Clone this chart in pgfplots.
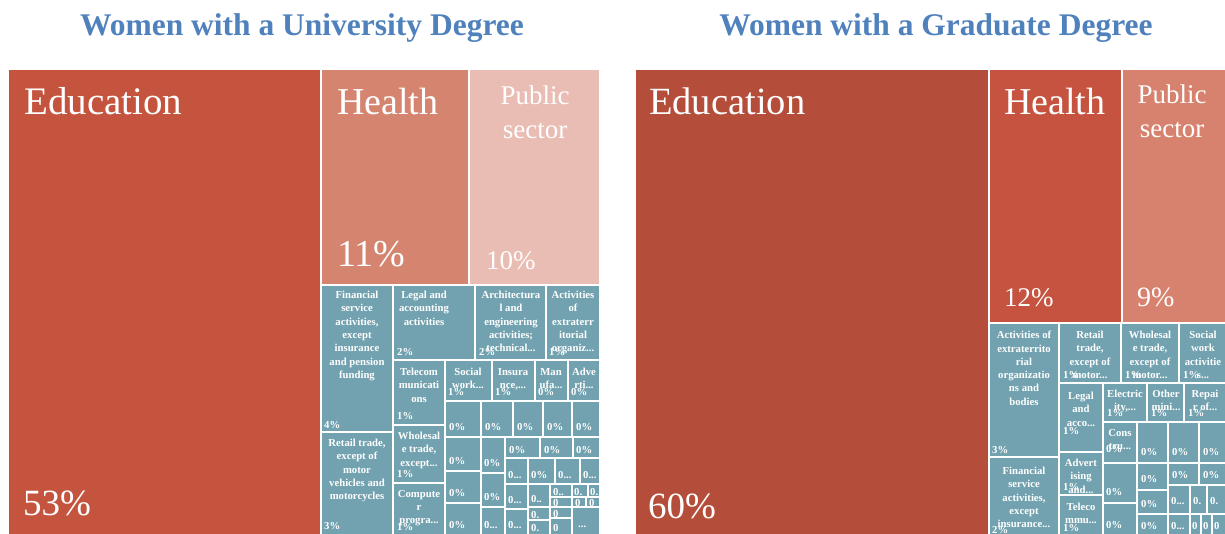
\documentclass[border=0pt]{standalone}
\usepackage{pgfplots}
\pgfplotsset{compat=1.18}
\usepackage{fontspec}
\setmainfont{Liberation Serif}
\definecolor{LA}{HTML}{C5543F}
\definecolor{LB}{HTML}{D4846F}
\definecolor{LC}{HTML}{E9BDB3}
\definecolor{RA}{HTML}{B44E3A}
\definecolor{RB}{HTML}{C5533F}
\definecolor{RC}{HTML}{D7826E}
\definecolor{TL}{HTML}{72A2B0}
\definecolor{TT}{HTML}{4F81BD}
\newcommand{\lbl}{\fontsize{10.7}{13.3}\selectfont\bfseries}
\newcommand{\cell}[5]{\addplot[fill=#5, draw=white, line width=1.6pt] coordinates {(#1,#2) (#3,#2) (#3,#4) (#1,#4)} --cycle;}
\newcommand{\cname}[3]{\node[anchor=north, align=center, font=\lbl, text=white, inner sep=0pt] at (axis cs:#1,#2) {#3};}
\newcommand{\cpct}[3]{\node[anchor=base west, font=\lbl, text=white, inner sep=0pt] at (axis cs:#1,#2) {#3};}
\newcommand{\BigLab}[4]{\node[anchor=base west, font=\fontsize{#3}{#3}\selectfont, text=white, inner sep=0pt] at (axis cs:#1,#2) {#4};}
\newcommand{\BigCen}[4]{\node[anchor=base, font=\fontsize{#3}{#3}\selectfont, text=white, inner sep=0pt] at (axis cs:#1,#2) {#4};}
\begin{document}
\begin{tikzpicture}
\useasboundingbox (0,0) rectangle (1225pt,533pt);
\begin{axis}[at={(0,0)}, anchor=south west, width=1225pt, height=533pt, scale only axis, xmin=0, xmax=1225, ymin=0, ymax=533, y dir=reverse, hide axis, clip=true]
% ---------------- left treemap ----------------
\cell{8}{69}{321}{535}{LA}
\cell{321}{69}{469}{285}{LB}
\cell{469}{69}{600}{285}{LC}
\cell{321}{285}{393}{432}{TL}
\cell{321}{432}{393}{535}{TL}
\cell{393}{285}{475}{360}{TL}
\cell{475}{285}{546}{360}{TL}
\cell{546}{285}{600}{360}{TL}
\cell{393}{360}{445}{425}{TL}
\cell{393}{425}{445}{483}{TL}
\cell{393}{483}{445}{535}{TL}
\cell{445}{360}{492}{401}{TL}
\cell{492}{360}{535}{401}{TL}
\cell{535}{360}{568}{401}{TL}
\cell{568}{360}{600}{401}{TL}
\cell{445}{401}{481}{437}{TL}
\cell{481}{401}{513}{437}{TL}
\cell{513}{401}{543}{437}{TL}
\cell{543}{401}{572}{437}{TL}
\cell{572}{401}{600}{437}{TL}
\cell{445}{437}{481}{471}{TL}
\cell{445}{471}{481}{503}{TL}
\cell{445}{503}{481}{535}{TL}
\cell{481}{437}{505}{473}{TL}
\cell{481}{473}{505}{507}{TL}
\cell{481}{507}{505}{535}{TL}
\cell{505}{437}{540}{458}{TL}
\cell{540}{437}{573}{458}{TL}
\cell{573}{437}{600}{458}{TL}
\cell{505}{458}{528}{484}{TL}
\cell{528}{458}{555}{484}{TL}
\cell{555}{458}{580}{484}{TL}
\cell{580}{458}{600}{484}{TL}
\cell{505}{484}{528}{509}{TL}
\cell{505}{509}{528}{535}{TL}
\cell{528}{484}{550}{507}{TL}
\cell{528}{507}{550}{520}{TL}
\cell{528}{520}{550}{535}{TL}
\cell{550}{484}{572}{497}{TL}
\cell{550}{497}{572}{507}{TL}
\cell{550}{507}{572}{518}{TL}
\cell{550}{518}{572}{535}{TL}
\cell{572}{484}{588}{497}{TL}
\cell{588}{484}{600}{497}{TL}
\cell{572}{497}{586}{507}{TL}
\cell{586}{497}{600}{507}{TL}
\cell{572}{507}{600}{535}{TL}
% ---------------- right treemap ----------------
\cell{635}{69}{989}{535}{RA}
\cell{989}{69}{1122}{323}{RB}
\cell{1122}{69}{1227}{323}{RC}
\cell{989}{323}{1059}{457}{TL}
\cell{989}{457}{1059}{535}{TL}
\cell{1059}{323}{1121}{383}{TL}
\cell{1121}{323}{1179}{383}{TL}
\cell{1179}{323}{1227}{383}{TL}
\cell{1059}{383}{1103}{452}{TL}
\cell{1103}{383}{1147}{422}{TL}
\cell{1147}{383}{1184}{422}{TL}
\cell{1184}{383}{1227}{422}{TL}
\cell{1059}{452}{1103}{495}{TL}
\cell{1059}{495}{1103}{535}{TL}
\cell{1103}{422}{1137}{463}{TL}
\cell{1137}{422}{1168}{463}{TL}
\cell{1168}{422}{1199}{463}{TL}
\cell{1199}{422}{1227}{463}{TL}
\cell{1103}{463}{1137}{503}{TL}
\cell{1103}{503}{1137}{535}{TL}
\cell{1137}{463}{1168}{490}{TL}
\cell{1137}{490}{1168}{514}{TL}
\cell{1137}{514}{1168}{535}{TL}
\cell{1168}{463}{1199}{485}{TL}
\cell{1199}{463}{1227}{485}{TL}
\cell{1168}{485}{1190}{514}{TL}
\cell{1190}{485}{1207}{514}{TL}
\cell{1207}{485}{1227}{514}{TL}
\cell{1168}{514}{1190}{535}{TL}
\cell{1190}{514}{1201}{535}{TL}
\cell{1201}{514}{1212}{535}{TL}
\cell{1212}{514}{1227}{535}{TL}
% ---------------- titles ----------------
\node[anchor=base, font=\fontsize{31.5}{32}\selectfont\bfseries, text=TT] at (axis cs:302,35) {Women with a University Degree};
\node[anchor=base, font=\fontsize{31.5}{32}\selectfont\bfseries, text=TT] at (axis cs:936,35) {Women with a Graduate Degree};
% ---------------- left labels ----------------
\BigLab{24}{114}{39}{Education}
\BigLab{23}{515}{37}{53\%}
\BigLab{337}{114}{38}{Health}
\BigLab{337}{266}{38}{11\%}
\BigCen{535}{104}{27}{Public}
\BigCen{535}{138}{27}{sector}
\BigLab{486}{269}{27}{10\%}
\cname{357}{291}{Financial\\service\\activities,\\except\\insurance\\and pension\\funding}
\cpct{324}{428}{4\%}
\cname{357}{439}{Retail trade,\\except of\\motor\\vehicles and\\motorcycles}
\cpct{324}{529}{3\%}
\cname{424}{291}{Legal and\\accounting\\activities}
\cpct{397}{355}{2\%}
\cname{511}{291}{Architectura\\l and\\engineering\\activities;\\technical...}
\cpct{479}{355}{2\%}
\cname{573}{291}{Activities\\of\\extraterr\\itorial\\organiz...}
\cpct{549}{355}{1\%}
\cname{419}{368}{Telecom\\municati\\ons}
\cpct{397}{419}{1\%}
\cname{419}{432}{Wholesal\\e trade,\\except...}
\cpct{397}{477}{1\%}
\cname{419}{490}{Compute\\r\\progra...}
\cpct{397}{530}{1\%}
\cname{468}{368}{Social\\work...}
\cpct{448}{395}{1\%}
\cname{513}{368}{Insura\\nce,...}
\cpct{495}{395}{1\%}
\cname{551}{368}{Man\\ufa...}
\cpct{538}{395}{0\%}
\cname{584}{368}{Adve\\rti...}
\cpct{571}{395}{0\%}
\cpct{449}{430}{0\%}
\cpct{485}{430}{0\%}
\cpct{517}{430}{0\%}
\cpct{547}{430}{0\%}
\cpct{576}{430}{0\%}
\cpct{449}{464}{0\%}
\cpct{449}{496}{0\%}
\cpct{449}{528}{0\%}
\cpct{484}{466}{0\%}
\cpct{484}{500}{0\%}
\cpct{484}{528}{0...}
\cpct{509}{453}{0\%}
\cpct{544}{453}{0\%}
\cpct{576}{453}{0\%}
\cpct{508}{478}{0...}
\cpct{531}{478}{0\%}
\cpct{558}{478}{0...}
\cpct{583}{478}{0...}
\cpct{508}{503}{0...}
\cpct{508}{528}{0...}
\cpct{531}{502}{0..}
\cpct{531}{518}{0.}
\cpct{531}{531}{0.}
\cpct{553}{495}{0..}
\cpct{553}{506}{0}
\cpct{553}{517}{0}
\cpct{553}{531}{0}
\cpct{574}{495}{0.}
\cpct{590}{495}{0.}
\cpct{575}{506}{0}
\cpct{589}{506}{0}
\cpct{578}{527}{...}
% ---------------- right labels ----------------
\BigLab{649}{114}{38.5}{Education}
\BigLab{648}{518}{37}{60\%}
\BigLab{1004}{114}{38}{Health}
\BigLab{1004}{306}{27}{12\%}
\BigCen{1172}{103}{27}{Public}
\BigCen{1172}{137}{27}{sector}
\BigLab{1137}{306}{28}{9\%}
\cname{1024}{331}{Activities of\\extraterrito\\rial\\organizatio\\ns and\\bodies}
\cpct{992}{453}{3\%}
\cname{1024}{467}{Financial\\service\\activities,\\except\\insurance...}
\cpct{992}{533}{2\%}
\cname{1090}{331}{Retail\\trade,\\except of\\motor...}
\cpct{1063}{378}{1\%}
\cname{1150}{331}{Wholesal\\e trade,\\except of\\motor...}
\cpct{1125}{378}{1\%}
\cname{1203}{331}{Social\\work\\activitie\\s...}
\cpct{1183}{378}{1\%}
\cname{1081}{392}{Legal\\and\\acco...}
\cpct{1063}{434}{1\%}
\cname{1125}{390}{Electric\\ity,...}
\cpct{1107}{416}{1\%}
\cname{1166}{390}{Other\\mini...}
\cpct{1151}{416}{1\%}
\cname{1205}{390}{Repai\\r of...}
\cpct{1188}{416}{1\%}
\cname{1081}{459}{Advert\\ising\\and...}
\cpct{1063}{490}{1\%}
\cname{1081}{503}{Teleco\\mmu...}
\cpct{1063}{531}{1\%}
\cname{1120}{429}{Cons\\tru...}
\cpct{1106}{452}{0\%}
\cpct{1141}{455}{0\%}
\cpct{1172}{455}{0\%}
\cpct{1203}{455}{0\%}
\cpct{1106}{495}{0\%}
\cpct{1106}{528}{0\%}
\cpct{1141}{482}{0\%}
\cpct{1141}{507}{0\%}
\cpct{1141}{529}{0\%}
\cpct{1172}{478}{0\%}
\cpct{1203}{478}{0\%}
\cpct{1171}{504}{0...}
\cpct{1193}{504}{0.}
\cpct{1210}{504}{0.}
\cpct{1171}{529}{0...}
\cpct{1192}{529}{0}
\cpct{1203}{529}{0}
\cpct{1214}{529}{0}
\end{axis}
\end{tikzpicture}
\end{document}
